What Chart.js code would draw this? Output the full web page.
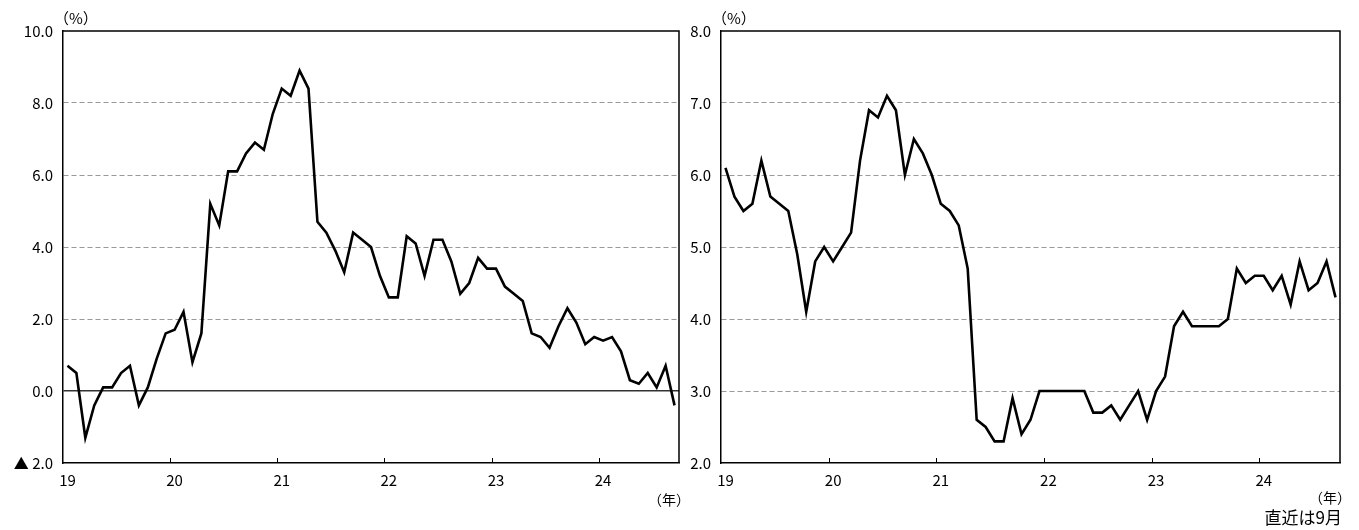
<!DOCTYPE html>
<html lang="ja">
<head>
<meta charset="utf-8">
<script src="https://cdn.jsdelivr.net/npm/chart.js@4.4.1/dist/chart.umd.min.js"></script>
<style>
  body { margin: 0; width: 1359px; height: 530px; background: #fff; position: relative; overflow: hidden; }
  canvas { position: absolute; top: 0; }
  #chart-left { left: 0; }
  #chart-right { left: 680px; }
</style>
</head>
<body>
<canvas id="chart-left" width="700" height="530"></canvas>
<canvas id="chart-right" width="679" height="530"></canvas>
<script>
// categories: monthly, Jan 2019 - Sep 2024
const years = ['19', '20', '21', '22', '23', '24'];
const lastMonth = 9; // 直近は9月

// left panel (%), monthly
const leftValues = [
    0.7, 0.5, -1.3, -0.4, 0.1, 0.1, 0.5, 0.7, -0.4, 0.1, 0.9, 1.6,   // 2019
    1.7, 2.2, 0.8, 1.6, 5.2, 4.6, 6.1, 6.1, 6.6, 6.9, 6.7, 7.7,      // 2020
    8.4, 8.2, 8.9, 8.4, 4.7, 4.4, 3.9, 3.3, 4.4, 4.2, 4.0, 3.2,      // 2021
    2.6, 2.6, 4.3, 4.1, 3.2, 4.2, 4.2, 3.6, 2.7, 3.0, 3.7, 3.4,      // 2022
    3.4, 2.9, 2.7, 2.5, 1.6, 1.5, 1.2, 1.8, 2.3, 1.9, 1.3, 1.5,      // 2023
    1.4, 1.5, 1.1, 0.3, 0.2, 0.5, 0.1, 0.7, -0.4                     // 2024
];

// right panel (%), monthly
const rightValues = [
    6.1, 5.7, 5.5, 5.6, 6.2, 5.7, 5.6, 5.5, 4.9, 4.1, 4.8, 5.0,      // 2019
    4.8, 5.0, 5.2, 6.2, 6.9, 6.8, 7.1, 6.9, 6.0, 6.5, 6.3, 6.0,      // 2020
    5.6, 5.5, 5.3, 4.7, 2.6, 2.5, 2.3, 2.3, 2.9, 2.4, 2.6, 3.0,      // 2021
    3.0, 3.0, 3.0, 3.0, 3.0, 2.7, 2.7, 2.8, 2.6, 2.8, 3.0, 2.6,      // 2022
    3.0, 3.2, 3.9, 4.1, 3.9, 3.9, 3.9, 3.9, 4.0, 4.7, 4.5, 4.6,      // 2023
    4.6, 4.4, 4.6, 4.2, 4.8, 4.4, 4.5, 4.8, 4.3                      // 2024
];

// y axis ranges [min, max, step]
const leftRange = [-2, 10, 2];
const rightRange = [2, 8, 1];

// build month labels like '19/1'
const labels = [];
years.forEach((y, i) => {
    const n = i === years.length - 1 ? lastMonth : 12;
    for (let m = 1; m <= n; m++) labels.push(y + '/' + m);
});

const FONT = "'Noto Sans CJK JP', 'Noto Sans', sans-serif";
Chart.defaults.font.family = FONT;
Chart.defaults.font.size = 15;
Chart.defaults.color = '#000';

// frame, inner year ticks and the small notes
const notesPlugin = {
    id: 'notes',
    afterDraw(chart, args, opts) {
        const { ctx, chartArea: a, scales: { x } } = chart;
        ctx.save();
        ctx.strokeStyle = '#000';
        ctx.lineWidth = 1.5;
        ctx.beginPath();
        ctx.moveTo(a.left, a.top);
        ctx.lineTo(a.right, a.top);
        ctx.lineTo(a.right, a.bottom);
        ctx.stroke();

        // small ticks pointing up at each year boundary
        ctx.lineWidth = 1;
        labels.forEach((lab, i) => {
            if (i > 0 && lab.endsWith('/1')) {
                const px = Math.round((x.getPixelForValue(i - 1) + x.getPixelForValue(i)) / 2) + 0.5;
                ctx.beginPath();
                ctx.moveTo(px, a.bottom);
                ctx.lineTo(px, a.bottom - 5);
                ctx.stroke();
            }
        });

        ctx.fillStyle = '#000';
        ctx.textBaseline = 'middle';
        ctx.font = '15px ' + FONT;
        ctx.textAlign = 'left';
        ctx.fillText('（%）', a.left - 9, a.top - 13);
        ctx.font = '14px ' + FONT;
        ctx.textAlign = 'right';
        ctx.fillText('（年）', a.right + 11, a.bottom + opts.yearOffset);
        if (opts.note) {
            ctx.font = '17px ' + FONT;
            ctx.fillText(opts.note, a.right + 2, a.bottom + 55);
        }
        ctx.restore();
    }
};

function makeChart(id, values, range, yWidth, rightPad, notes, fmt) {
    const [yMin, yMax, yStep] = range;
    return new Chart(document.getElementById(id), {
        type: 'line',
        data: {
            labels: labels,
            datasets: [{
                data: values,
                borderColor: '#000',
                borderWidth: 2.6,
                pointRadius: 0,
                tension: 0,
                fill: false
            }]
        },
        options: {
            responsive: false,
            animation: false,
            layout: { padding: { top: 31, right: rightPad, bottom: 37, left: 0 } },
            plugins: {
                legend: { display: false },
                tooltip: { enabled: false },
                notes: notes
            },
            scales: {
                x: {
                    type: 'category',
                    offset: true,
                    grid: { display: false, drawTicks: false },
                    border: { display: true, color: '#000', width: 1.5 },
                    ticks: {
                        autoSkip: false,
                        maxRotation: 0,
                        padding: 8,
                        callback: function (value) {
                            const lab = this.getLabelForValue(value);
                            return lab.endsWith('/1') ? lab.split('/')[0] : '';
                        }
                    },
                    afterFit: scale => { scale.height = 30; }
                },
                y: {
                    min: yMin,
                    max: yMax,
                    grid: {
                        drawTicks: false,
                        color: ctx => {
                            const v = ctx.tick ? ctx.tick.value : null;
                            if (v === yMin || v === yMax) return 'rgba(0,0,0,0)';
                            return v === 0 ? '#333' : '#999';
                        },
                        lineWidth: ctx => (ctx.tick && ctx.tick.value === 0 ? 1.5 : 1)
                    },
                    border: {
                        display: true,
                        color: '#000',
                        width: 1.5,
                        dash: ctx => (ctx.tick && ctx.tick.value !== 0 ? [5, 3] : [])
                    },
                    ticks: {
                        stepSize: yStep,
                        padding: 10,
                        callback: fmt
                    },
                    afterFit: scale => { scale.width = yWidth; }
                }
            }
        },
        plugins: [notesPlugin]
    });
}

const fmtLeft = v => (v < 0 ? '▲ ' + Math.abs(v).toFixed(1) : v.toFixed(1));
const fmtRight = v => v.toFixed(1);

makeChart('chart-left', leftValues, leftRange, 63, 21, { yearOffset: 37 }, fmtLeft);
makeChart('chart-right', rightValues, rightRange, 41, 19, { yearOffset: 35, note: '直近は9月' }, fmtRight);
</script>
</body>
</html>
